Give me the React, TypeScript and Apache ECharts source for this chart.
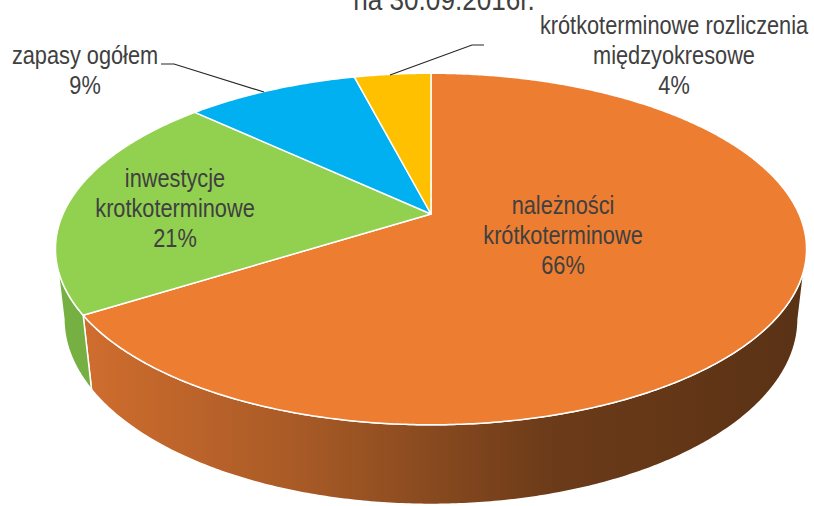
import React, { useEffect, useRef } from 'react';
import * as echarts from 'echarts';

// ---- data ----
const categories = [
  'należności\nkrótkoterminowe',
  'inwestycje\nkrotkoterminowe',
  'zapasy ogółem',
  'krótkoterminowe rozliczenia\nmiędzyokresowe',
];
const values = [66, 21, 9, 4];
const titleText = 'na 30.09.2016r.';

// ---- styles / layout ----
const topColors = ['#ED7D31', '#92D050', '#00B0F0', '#FFC000'];
const sideColors: any[] = [
  {
    type: 'linear', x: 85, y: 0, x2: 800, y2: 0, global: true,
    colorStops: [
      { offset: 0, color: '#cf6d2e' },
      { offset: 0.3, color: '#a85a26' },
      { offset: 0.65, color: '#6c3b19' },
      { offset: 1, color: '#5a3215' },
    ],
  },
  '#76b043',
  '#0090c8',
  '#d9a200',
];
const labelPos = [[563, 235], [175, 208], [85, 70], [674, 55]];
const TEXT_COLOR = '#404040';
const FONT = 'Liberation Sans, Arial, sans-serif';

const CX = 431, CY = 214, R = 368, TILT = (27.3 * Math.PI) / 180, F = 1642, H = 79;

function project(theta: number, r: number, h: number): number[] {
  const X = r * Math.sin(theta);
  const Z = r * Math.cos(theta);
  const yv = h * Math.cos(TILT) + Z * Math.sin(TILT);
  const depth = Z * Math.cos(TILT) - h * Math.sin(TILT);
  const s = F / (F + depth);
  return [CX + X * s, CY - yv * s];
}

function arcPoints(a1: number, a2: number, h: number): number[][] {
  const pts: number[][] = [];
  const n = Math.max(2, Math.ceil(((a2 - a1) * 180) / Math.PI / 0.5));
  for (let i = 0; i <= n; i++) {
    pts.push(project(a1 + ((a2 - a1) * i) / n, R, h));
  }
  return pts;
}

export default function App() {
  const ref = useRef<HTMLDivElement>(null);
  useEffect(() => {
    if (!ref.current) return;
    const chart = echarts.init(ref.current, undefined, { renderer: 'svg' });
    const total = values.reduce((a, b) => a + b, 0);
    const b = (R * Math.cos(TILT)) / F;
    const thR = Math.acos(-b);
    const thL = 2 * Math.PI - thR;

    const renderItem = (params: any, api: any) => {
      const idx = params.dataIndex;
      let before = 0;
      for (let i = 0; i < idx; i++) before += values[i];
      const v = api.value(0);
      const a1 = (before / total) * 2 * Math.PI;
      const a2 = ((before + v) / total) * 2 * Math.PI;
      const children: any[] = [];
      // side
      const s1 = Math.max(a1, thR);
      const s2 = Math.min(a2, thL);
      if (s2 > s1) {
        const top = arcPoints(s1, s2, 0);
        const bot = arcPoints(s1, s2, -H).reverse();
        children.push({
          type: 'polygon',
          shape: { points: top.concat(bot) },
          style: { fill: sideColors[idx], stroke: '#ffffff', lineWidth: 1.5, lineJoin: 'round' },
        });
      }
      // top
      const pts = [project(0, 0, 0)].concat(arcPoints(a1, a2, 0));
      children.push({
        type: 'polygon',
        shape: { points: pts },
        style: { fill: topColors[idx], stroke: '#ffffff', lineWidth: 1.5, lineJoin: 'round' },
      });
      // label
      const pct = Math.round((v / total) * 100);
      children.push({
        type: 'text',
        x: labelPos[idx][0],
        y: labelPos[idx][1],
        scaleX: 0.87,
        z2: 10,
        style: {
          text: categories[idx] + '\n' + pct + '%',
          fill: TEXT_COLOR,
          fontSize: 25,
          fontFamily: FONT,
          align: 'center',
          verticalAlign: 'middle',
          lineHeight: 30,
        },
      });
      return { type: 'group', children };
    };

    chart.setOption({
      animation: false,
      backgroundColor: '#ffffff',
      series: [
        {
          type: 'custom',
          coordinateSystem: 'none',
          renderItem,
          data: values.map((v, i) => ({ value: [v], name: categories[i] })),
        },
      ],
      graphic: [
        {
          type: 'text',
          x: 444,
          y: 0,
          scaleX: 0.87,
          style: {
            text: titleText,
            fill: TEXT_COLOR,
            fontSize: 30,
            fontFamily: FONT,
            align: 'center',
            verticalAlign: 'middle',
          },
        },
        {
          type: 'polyline',
          shape: { points: [[161, 64], [174, 64], [264, 92]] },
          style: { stroke: '#262626', lineWidth: 1.2, fill: null },
          z: 10,
        },
        {
          type: 'polyline',
          shape: { points: [[484, 45], [472, 45], [390, 75]] },
          style: { stroke: '#262626', lineWidth: 1.2, fill: null },
          z: 10,
        },
      ],
    });
    return () => chart.dispose();
  }, []);
  return (
    <div
      ref={ref}
      style={{ position: 'fixed', left: 0, top: 0, width: 814, height: 506 }}
    />
  );
}
